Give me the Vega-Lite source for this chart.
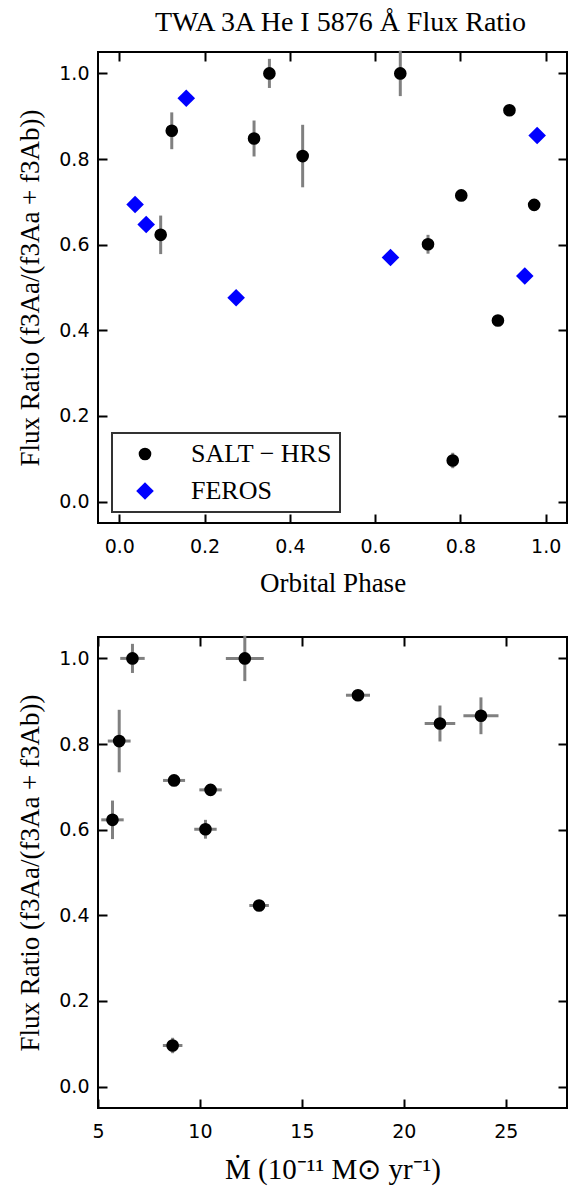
{
  "$schema": "https://vega.github.io/schema/vega-lite/v6.json",
  "background": "white",
  "padding": {"left": 15, "top": 9, "right": 0, "bottom": 0},
  "title": {
    "text": "TWA 3A He I 5876 Å Flux Ratio",
    "anchor": "middle",
    "font": "Liberation Serif",
    "fontSize": 28,
    "fontWeight": "normal",
    "color": "black",
    "baseline": "alphabetic",
    "offset": -11,
    "dx": 48
  },
  "datasets": {
    "salt": [
      {"phase": 0.097, "ratio": 0.623, "ratio_err": 0.045, "mdot": 5.71, "mdot_err": 0.55},
      {"phase": 0.123, "ratio": 0.866, "ratio_err": 0.043, "mdot": 23.78, "mdot_err": 0.86},
      {"phase": 0.316, "ratio": 0.848, "ratio_err": 0.042, "mdot": 21.77, "mdot_err": 0.75},
      {"phase": 0.352, "ratio": 1.0, "ratio_err": 0.034, "mdot": 6.69, "mdot_err": 0.6},
      {"phase": 0.43, "ratio": 0.807, "ratio_err": 0.073, "mdot": 6.04, "mdot_err": 0.56},
      {"phase": 0.659, "ratio": 1.0, "ratio_err": 0.053, "mdot": 12.2, "mdot_err": 0.93},
      {"phase": 0.724, "ratio": 0.601, "ratio_err": 0.022, "mdot": 10.27, "mdot_err": 0.55},
      {"phase": 0.782, "ratio": 0.096, "ratio_err": 0.018, "mdot": 8.66, "mdot_err": 0.48},
      {"phase": 0.802, "ratio": 0.715, "ratio_err": 0.01, "mdot": 8.73, "mdot_err": 0.54},
      {"phase": 0.888, "ratio": 0.423, "ratio_err": 0.008, "mdot": 12.9, "mdot_err": 0.48},
      {"phase": 0.915, "ratio": 0.914, "ratio_err": 0.01, "mdot": 17.75, "mdot_err": 0.59},
      {"phase": 0.973, "ratio": 0.693, "ratio_err": 0.01, "mdot": 10.52, "mdot_err": 0.55}
    ],
    "feros": [
      {"phase": 0.037, "ratio": 0.694},
      {"phase": 0.063, "ratio": 0.647},
      {"phase": 0.157, "ratio": 0.942},
      {"phase": 0.274, "ratio": 0.476},
      {"phase": 0.636, "ratio": 0.57},
      {"phase": 0.951, "ratio": 0.527},
      {"phase": 0.98, "ratio": 0.855}
    ]
  },
  "bounds": "flush",
  "spacing": 114,
  "vconcat": [
    {
      "width": 469,
      "height": 471,
      "layer": [
        {
          "data": {"name": "salt"},
          "mark": {"type": "errorbar", "color": "#808080", "thickness": 3},
          "encoding": {
            "x": {
              "field": "phase", "type": "quantitative",
              "scale": {"domain": [-0.05, 1.05], "nice": false, "zero": false},
              "axis": {"orient": "bottom", "title": "Orbital Phase", "values": [0, 0.2, 0.4, 0.6, 0.8, 1.0], "format": ".1f"}
            },
            "y": {
              "field": "ratio", "type": "quantitative",
              "scale": {"domain": [-0.05, 1.05], "nice": false, "zero": false},
              "axis": {"orient": "left", "title": "Flux Ratio (f3Aa/(f3Aa + f3Ab))", "values": [0, 0.2, 0.4, 0.6, 0.8, 1.0], "format": ".1f"}
            },
            "yError": {"field": "ratio_err"}
          }
        },
        {
          "data": {"name": "salt"},
          "mark": {"type": "point", "filled": true, "opacity": 1, "strokeWidth": 0},
          "encoding": {
            "x": {"field": "phase", "type": "quantitative", "axis": null},
            "y": {"field": "ratio", "type": "quantitative", "axis": null},
            "color": {"datum": "SALT − HRS", "type": "nominal", "scale": {"domain": ["SALT − HRS", "FEROS"], "range": ["black", "blue"]}, "legend": {"title": null, "orient": "none", "legendX": 14, "legendY": 381}},
            "shape": {"datum": "SALT − HRS", "type": "nominal", "scale": {"domain": ["SALT − HRS", "FEROS"], "range": ["circle", "diamond"]}, "legend": {"title": null, "orient": "none", "legendX": 14, "legendY": 381}},
            "size": {"datum": "SALT − HRS", "type": "nominal", "scale": {"domain": ["SALT − HRS", "FEROS"], "range": [160, 310]}, "legend": {"title": null, "orient": "none", "legendX": 14, "legendY": 381}}
          }
        },
        {
          "data": {"name": "feros"},
          "mark": {"type": "point", "filled": true, "opacity": 1, "strokeWidth": 0},
          "encoding": {
            "x": {"field": "phase", "type": "quantitative", "axis": {"orient": "top", "labels": false, "title": null, "values": [0, 0.2, 0.4, 0.6, 0.8, 1.0]}},
            "y": {"field": "ratio", "type": "quantitative", "axis": {"orient": "right", "labels": false, "title": null, "values": [0, 0.2, 0.4, 0.6, 0.8, 1.0]}},
            "color": {"datum": "FEROS", "type": "nominal"},
            "shape": {"datum": "FEROS", "type": "nominal"},
            "size": {"datum": "FEROS", "type": "nominal"}
          }
        },
        {
          "mark": {"type": "rule", "color": "black", "strokeWidth": 3.7, "strokeDash": [4, 7.6]},
          "encoding": {"y": {"datum": 0.5, "type": "quantitative", "axis": null}}
        }
      ]
    },
    {
      "width": 469,
      "height": 471,
      "layer": [
        {
          "data": {"name": "salt"},
          "mark": {"type": "errorbar", "color": "#808080", "thickness": 3},
          "encoding": {
            "x": {
              "field": "mdot", "type": "quantitative",
              "scale": {"domain": [5, 28], "nice": false, "zero": false},
              "axis": {"orient": "bottom", "title": "Ṁ (10⁻¹¹ M⊙ yr⁻¹)", "titleFontSize": 29, "values": [5, 10, 15, 20, 25], "format": "d"}
            },
            "y": {
              "field": "ratio", "type": "quantitative",
              "scale": {"domain": [-0.05, 1.05], "nice": false, "zero": false},
              "axis": {"orient": "left", "title": "Flux Ratio (f3Aa/(f3Aa + f3Ab))", "values": [0, 0.2, 0.4, 0.6, 0.8, 1.0], "format": ".1f"}
            },
            "xError": {"field": "mdot_err"}
          }
        },
        {
          "data": {"name": "salt"},
          "mark": {"type": "errorbar", "color": "#808080", "thickness": 3},
          "encoding": {
            "x": {"field": "mdot", "type": "quantitative", "axis": null},
            "y": {"field": "ratio", "type": "quantitative", "axis": null},
            "yError": {"field": "ratio_err"}
          }
        },
        {
          "data": {"name": "salt"},
          "mark": {"type": "circle", "color": "black", "size": 160, "opacity": 1},
          "encoding": {
            "x": {"field": "mdot", "type": "quantitative", "axis": {"orient": "top", "labels": false, "title": null, "values": [5, 10, 15, 20, 25]}},
            "y": {"field": "ratio", "type": "quantitative", "axis": {"orient": "right", "labels": false, "title": null, "values": [0, 0.2, 0.4, 0.6, 0.8, 1.0]}}
          }
        },
        {
          "mark": {"type": "rule", "color": "black", "strokeWidth": 3.7, "strokeDash": [4, 7.6]},
          "encoding": {"y": {"datum": 0.5, "type": "quantitative", "axis": null}}
        }
      ]
    }
  ],
  "config": {
    "view": {"stroke": "black", "strokeWidth": 2},
    "axis": {
      "grid": false,
      "domain": false,
      "minExtent": 0,
      "tickColor": "black",
      "tickWidth": 2,
      "tickSize": -9,
      "labelFont": "DejaVu Sans",
      "labelFontSize": 19,
      "labelColor": "black",
      "labelFlush": false,
      "labelOverlap": false,
      "titleFont": "Liberation Serif",
      "titleFontSize": 27,
      "titleFontWeight": "normal",
      "titleColor": "black"
    },
    "axisX": {"labelPadding": 23.5, "titlePadding": 14},
    "axisY": {"labelPadding": 18, "titlePadding": 14},
    "legend": {
      "labelFont": "Liberation Serif",
      "labelFontSize": 26,
      "labelColor": "black",
      "padding": 8,
      "strokeColor": "#333333",
      "strokeWidth": 2,
      "fillColor": "white",
      "cornerRadius": 0,
      "symbolOffset": 12,
      "labelOffset": 33,
      "rowPadding": 11,
      "symbolStrokeWidth": 0
    }
  }
}
